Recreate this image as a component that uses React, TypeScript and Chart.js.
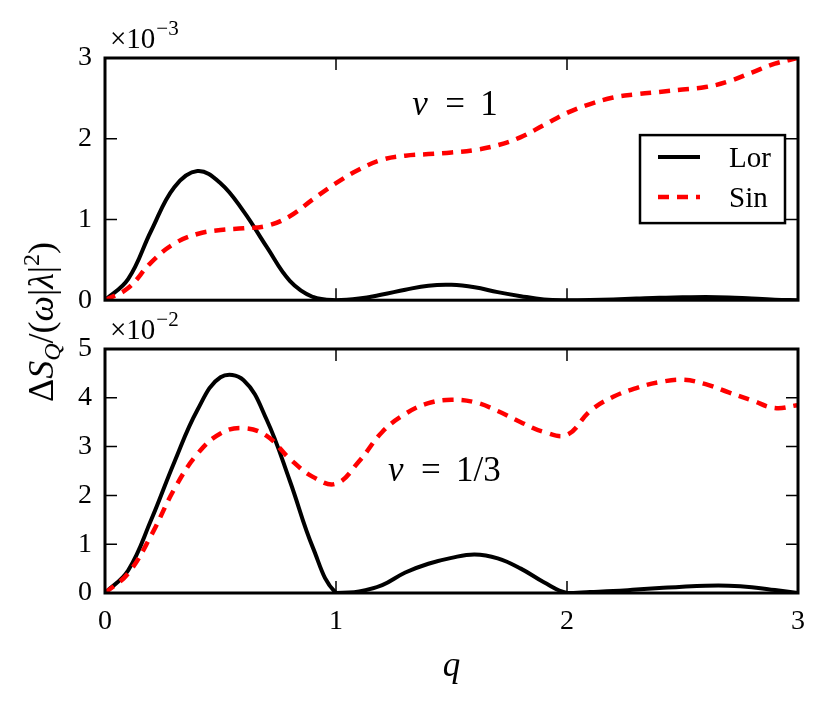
import { useEffect, useRef } from "react";
import { Chart, registerables } from "chart.js";

Chart.register(...registerables);

// q grid and the four curves (values in units of the panel multiplier)
const Q = [0, 0.1, 0.2, 0.3, 0.4, 0.5, 0.6, 0.7, 0.8, 0.9, 1, 1.1, 1.2, 1.3, 1.4, 1.5, 1.6, 1.7, 1.8, 1.9, 2, 2.1, 2.2, 2.3, 2.4, 2.5, 2.6, 2.7, 2.8, 2.9, 3];

const TOP_LOR = [0, 0.26, 0.86, 1.4, 1.6, 1.45, 1.1, 0.66, 0.24, 0.04, 0, 0.02, 0.07, 0.13, 0.18, 0.19, 0.16, 0.1, 0.05, 0.01, 0, 0.003, 0.01, 0.02, 0.03, 0.035, 0.04, 0.035, 0.02, 0.007, 0];
const TOP_SIN = [0, 0.15, 0.47, 0.7, 0.82, 0.87, 0.89, 0.92, 1.04, 1.25, 1.45, 1.62, 1.74, 1.79, 1.81, 1.83, 1.86, 1.92, 2.02, 2.17, 2.32, 2.43, 2.51, 2.55, 2.58, 2.61, 2.64, 2.71, 2.82, 2.93, 3.0];

const BOT_LOR = [0, 0.46, 1.5, 2.68, 3.75, 4.42, 4.36, 3.55, 2.3, 0.93, 0, 0.03, 0.16, 0.42, 0.6, 0.72, 0.79, 0.71, 0.5, 0.22, 0, 0.02, 0.04, 0.07, 0.1, 0.13, 0.15, 0.15, 0.12, 0.06, 0];
const BOT_SIN = [0, 0.4, 1.18, 2.13, 2.85, 3.27, 3.38, 3.22, 2.75, 2.38, 2.24, 2.7, 3.3, 3.67, 3.89, 3.96, 3.91, 3.73, 3.5, 3.3, 3.24, 3.73, 4.02, 4.2, 4.32, 4.37, 4.28, 4.11, 3.95, 3.79, 3.85];

const SERIES_LABELS = ["Lor", "Sin"];
const X_TICKS = [0, 1, 2, 3];
const TOP_Y_TICKS = [0, 1, 2, 3];
const BOT_Y_TICKS = [0, 1, 2, 3, 4, 5];

const FONT = '"Liberation Serif", "DejaVu Serif", serif';
const RED = "#ff0000";

// inward ticks on all four sides + thick frame
const frameTicks = {
  id: "frameTicks",
  afterDatasetsDraw(chart: any, _args: any, opts: any) {
    const { ctx, chartArea: a, scales } = chart;
    ctx.save();
    ctx.strokeStyle = "#000";
    ctx.lineWidth = 1.5;
    ctx.beginPath();
    for (const v of X_TICKS) {
      const px = scales.x.getPixelForValue(v);
      ctx.moveTo(px, a.bottom);
      ctx.lineTo(px, a.bottom - 12);
      ctx.moveTo(px, a.top);
      ctx.lineTo(px, a.top + 12);
    }
    for (const v of opts.yTicks as number[]) {
      const py = scales.y.getPixelForValue(v);
      ctx.moveTo(a.left, py);
      ctx.lineTo(a.left + 12, py);
      ctx.moveTo(a.right, py);
      ctx.lineTo(a.right - 12, py);
    }
    ctx.stroke();
    ctx.lineWidth = 3;
    ctx.strokeRect(a.left, a.top, a.right - a.left, a.bottom - a.top);
    ctx.restore();
  },
};

// multiplier above the axis and the nu label
const panelText = {
  id: "panelText",
  afterDraw(chart: any, _args: any, opts: any) {
    const { ctx, chartArea: a, scales } = chart;
    ctx.save();
    ctx.fillStyle = "#000";
    ctx.textBaseline = "alphabetic";
    ctx.textAlign = "left";
    // ×10^exp
    const bx = a.left + 5;
    const by = a.top - 10;
    ctx.font = `29px ${FONT}`;
    ctx.fillText("×10", bx, by);
    const w = ctx.measureText("×10").width;
    ctx.font = `21px ${FONT}`;
    ctx.fillText(opts.exp, bx + w + 1, by - 13);
    // nu label
    const nx = scales.x.getPixelForValue(opts.nuAt[0]);
    const ny = scales.y.getPixelForValue(opts.nuAt[1]);
    ctx.font = `italic 35px ${FONT}`;
    ctx.fillText("ν", nx, ny);
    ctx.font = `35px ${FONT}`;
    ctx.fillText("=", nx + 33, ny);
    ctx.fillText(opts.nu, nx + 68, ny);
    ctx.restore();
  },
};

// matplotlib-like boxed legend, center right
const boxLegend = {
  id: "boxLegend",
  afterDraw(chart: any, _args: any, opts: any) {
    if (!opts.show) return;
    const { ctx, chartArea: a } = chart;
    const bw = 145;
    const bh = 88;
    const x0 = a.right - 13 - bw;
    const y0 = (a.top + a.bottom) / 2 - bh / 2;
    ctx.save();
    ctx.fillStyle = "#fff";
    ctx.fillRect(x0, y0, bw, bh);
    ctx.strokeStyle = "#000";
    ctx.lineWidth = 2.5;
    ctx.strokeRect(x0, y0, bw, bh);
    chart.data.datasets.forEach((ds: any, i: number) => {
      const ry = y0 + 22 + i * 40;
      ctx.beginPath();
      ctx.strokeStyle = ds.borderColor;
      ctx.lineWidth = ds.borderWidth;
      ctx.setLineDash(ds.borderDash || []);
      ctx.moveTo(x0 + 18, ry);
      ctx.lineTo(x0 + 60, ry);
      ctx.stroke();
      ctx.setLineDash([]);
      ctx.fillStyle = "#000";
      ctx.font = `29px ${FONT}`;
      ctx.textBaseline = "alphabetic";
      ctx.fillText(ds.label, x0 + 89, ry + 10);
    });
    ctx.restore();
  },
};

function makeConfig(
  lor: number[],
  sin: number[],
  yMax: number,
  yTicks: number[],
  top: boolean,
  padTop: number,
  xAxisHeight: number
) {
  const toPts = (arr: number[]) => Q.map((q, i) => ({ x: q, y: arr[i] }));
  return {
    type: "line" as const,
    data: {
      datasets: [
        {
          label: SERIES_LABELS[0],
          data: toPts(lor),
          borderColor: "#000",
          borderWidth: 4,
          pointRadius: 0,
          tension: 0.4,
          fill: false,
          order: 1,
        },
        {
          label: SERIES_LABELS[1],
          data: toPts(sin),
          borderColor: RED,
          borderWidth: 4.5,
          borderDash: [11, 8],
          borderCapStyle: "butt" as const,
          pointRadius: 0,
          tension: 0.4,
          fill: false,
          order: 0,
        },
      ],
    },
    options: {
      animation: false as const,
      responsive: true,
      maintainAspectRatio: false,
      events: [],
      layout: { padding: { top: padTop, right: 33, left: 0, bottom: 0 } },
      plugins: {
        legend: { display: false },
        tooltip: { enabled: false },
        frameTicks: { yTicks },
        panelText: top
          ? { exp: "−3", nu: "1", nuAt: [1.33, 2.3] }
          : { exp: "−2", nu: "1/3", nuAt: [1.225, 2.29] },
        boxLegend: { show: top },
      },
      scales: {
        x: {
          type: "linear" as const,
          min: 0,
          max: 3,
          afterFit: (s: any) => {
            s.height = xAxisHeight;
          },
          afterBuildTicks: (s: any) => {
            s.ticks = X_TICKS.map((v) => ({ value: v }));
          },
          grid: { display: false, drawTicks: false },
          border: { display: false },
          ticks: {
            display: !top,
            color: "#000",
            padding: 12,
            font: { family: FONT, size: 28 },
            callback: (v: any) => String(v),
          },
          title: {
            display: !top,
            text: "q",
            color: "#000",
            font: { family: FONT, size: 35, style: "italic" as const },
            padding: { top: 22, bottom: 22 },
          },
        },
        y: {
          min: 0,
          max: yMax,
          afterFit: (s: any) => {
            s.width = 105;
          },
          afterBuildTicks: (s: any) => {
            s.ticks = yTicks.map((v) => ({ value: v }));
          },
          grid: { display: false, drawTicks: false },
          border: { display: false },
          ticks: {
            color: "#000",
            padding: 13,
            font: { family: FONT, size: 28 },
            callback: (v: any) => String(v),
          },
        },
      },
    },
    plugins: [frameTicks, panelText, boxLegend],
  };
}

export default function App() {
  const topRef = useRef<HTMLCanvasElement>(null);
  const botRef = useRef<HTMLCanvasElement>(null);

  useEffect(() => {
    if (!topRef.current || !botRef.current) return;
    const topChart = new Chart(
      topRef.current,
      makeConfig(TOP_LOR, TOP_SIN, 3, TOP_Y_TICKS, true, 58, 29) as any
    );
    const botChart = new Chart(
      botRef.current,
      makeConfig(BOT_LOR, BOT_SIN, 5, BOT_Y_TICKS, false, 49, 117) as any
    );
    return () => {
      topChart.destroy();
      botChart.destroy();
    };
  }, []);

  return (
    <div
      style={{
        position: "fixed",
        left: 0,
        top: 0,
        width: 831,
        height: 710,
        background: "#fff",
        fontFamily: FONT,
      }}
    >
      <div style={{ position: "absolute", left: 0, top: 0, width: 831, height: 330 }}>
        <canvas ref={topRef} />
      </div>
      <div style={{ position: "absolute", left: 0, top: 300, width: 831, height: 410 }}>
        <canvas ref={botRef} />
      </div>
      {/* shared y-axis label */}
      <div
        style={{
          position: "absolute",
          left: 41,
          top: 322,
          transform: "translate(-50%, -50%) rotate(-90deg)",
          whiteSpace: "nowrap",
          fontSize: 36,
          lineHeight: 1,
          color: "#000",
        }}
      >
        Δ<i>S</i>
        <i style={{ fontSize: 24, position: "relative", top: 7 }}>Q</i>
        /(<i>ω</i>|<i>λ</i>|
        <span style={{ fontSize: 24, position: "relative", top: -14 }}>2</span>)
      </div>
    </div>
  );
}
